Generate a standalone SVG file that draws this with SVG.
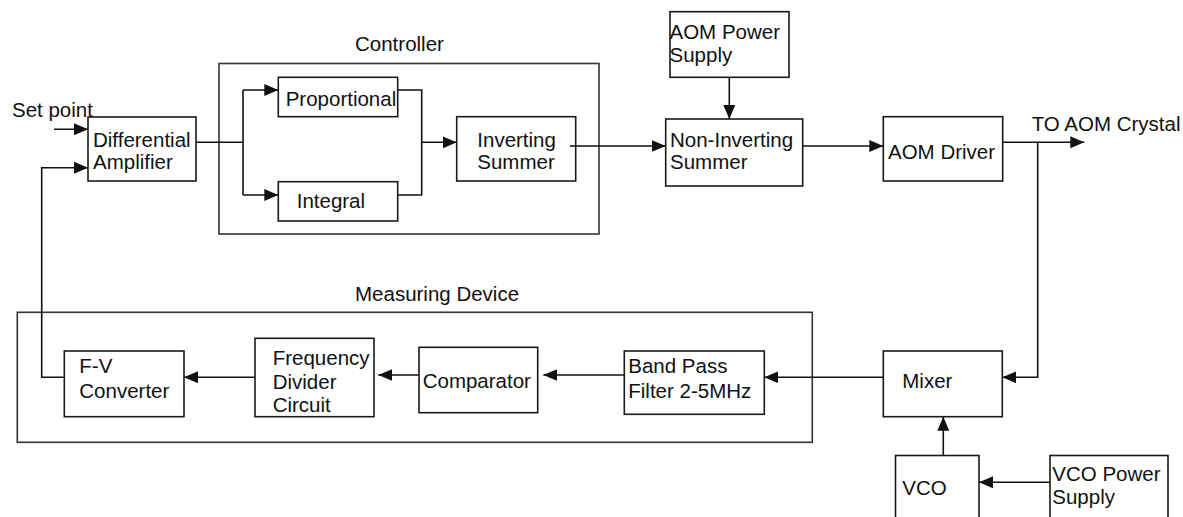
<svg xmlns="http://www.w3.org/2000/svg" width="1183" height="517" viewBox="0 0 1183 517">
<style>
rect.b{fill:#fff;stroke:#1a1a1a;stroke-width:1.6}
rect.g{fill:none;stroke:#333;stroke-width:1.6}
text{font-family:"Liberation Sans",Arial,sans-serif;font-size:20.5px;fill:#111}
#connectors path{fill:none;stroke:#111;stroke-width:1.6}
#connectors path.a{marker-end:url(#ah)}
</style>
<defs>
<marker id="ah" markerUnits="userSpaceOnUse" markerWidth="15" markerHeight="13" refX="14" refY="6" orient="auto">
<path d="M0,0 L14,6 L0,12 z" fill="#111"/>
</marker>
</defs>
<rect width="1183" height="517" fill="#fff"/>
<g id="controller-group">
<rect class="g" x="219" y="63.5" width="380" height="170.5"/>
<text x="355" y="50.7">Controller</text>
</g>
<g id="measuring-group">
<rect class="g" x="17.3" y="312.3" width="795" height="130"/>
<text x="355" y="300.7">Measuring Device</text>
</g>
<g id="connectors">
<path class="a" d="M54,129.3 H88"/>
<path d="M196,142.3 H243 M243,90 V195"/>
<path class="a" d="M243,90 H278.3"/>
<path class="a" d="M243,195 H278.3"/>
<path d="M397.7,90 H421.7 V195 H397.7"/>
<path class="a" d="M421.7,142.3 H456.7"/>
<path class="a" d="M570,146 H665.7"/>
<path class="a" d="M729.3,77.3 V119"/>
<path class="a" d="M802.7,146 H883.3"/>
<path class="a" d="M1002.7,142.3 H1084.3"/>
<path class="a" d="M1037.7,142.3 V377.3 H1002.3"/>
<path class="a" d="M883.3,377.3 H764.3"/>
<path class="a" d="M624.3,375 H543.3"/>
<path class="a" d="M419,375 H378.3"/>
<path class="a" d="M255,377.3 H184"/>
<path class="a" d="M64.3,377.3 H41.7 V167.7 H88"/>
<path class="a" d="M943.3,455.7 V416.7"/>
<path class="a" d="M1050,482.3 H979"/>
</g>
<text id="setpoint" x="12" y="117">Set point</text>
<text id="to-aom" x="1031.7" y="130.7">TO AOM Crystal</text>
<g id="diff-amp">
<rect class="b" x="88" y="117" width="108" height="64"/>
<text x="93" y="146.7">Differential</text>
<text x="93" y="169.3">Amplifier</text>
</g>
<g id="proportional">
<rect class="b" x="278.3" y="77.3" width="119.4" height="39.4"/>
<text x="285.7" y="106">Proportional</text>
</g>
<g id="integral">
<rect class="b" x="278.3" y="181.7" width="119.4" height="39.3"/>
<text x="296.7" y="208.3">Integral</text>
</g>
<g id="inverting-summer">
<rect class="b" x="456.7" y="116.7" width="119" height="64.3"/>
<text x="477.3" y="146.7">Inverting</text>
<text x="477.3" y="169">Summer</text>
</g>
<path d="M570,146 H576" stroke="#111" stroke-width="1.6"/>
<g id="aom-power">
<rect class="b" x="670" y="11.7" width="119" height="65.6"/>
<text x="669.5" y="39">AOM Power</text>
<text x="669.5" y="62">Supply</text>
</g>
<g id="non-inverting-summer">
<rect class="b" x="665.7" y="119" width="137" height="67"/>
<text x="670" y="146.7">Non-Inverting</text>
<text x="670" y="169">Summer</text>
</g>
<g id="aom-driver">
<rect class="b" x="883.3" y="116.7" width="119.4" height="64.3"/>
<text x="888" y="159.3">AOM Driver</text>
</g>
<g id="mixer">
<rect class="b" x="883.3" y="351" width="119" height="65.7"/>
<text x="902.3" y="387.7">Mixer</text>
</g>
<g id="band-pass">
<rect class="b" x="624.3" y="351" width="140" height="63.3"/>
<text x="628.3" y="372.7">Band Pass</text>
<text x="628.3" y="397.7">Filter 2-5MHz</text>
</g>
<g id="comparator">
<rect class="b" x="419" y="347.3" width="118.7" height="65.4"/>
<text x="422.7" y="387.7">Comparator</text>
</g>
<g id="freq-divider">
<rect class="b" x="255" y="338.3" width="119" height="78.4"/>
<text x="272.7" y="365">Frequency</text>
<text x="272.7" y="389">Divider</text>
<text x="272.7" y="411.7">Circuit</text>
</g>
<g id="fv-converter">
<rect class="b" x="64.3" y="351" width="119.7" height="65.7"/>
<text x="79.3" y="373.3">F-V</text>
<text x="79.3" y="398.3">Converter</text>
</g>
<g id="vco">
<rect class="b" x="895.5" y="455.5" width="83.5" height="70"/>
<text x="902.3" y="494.5">VCO</text>
</g>
<g id="vco-power">
<rect class="b" x="1050" y="455.5" width="118" height="70"/>
<text x="1052.3" y="481">VCO Power</text>
<text x="1052.3" y="504.3">Supply</text>
</g>
</svg>
